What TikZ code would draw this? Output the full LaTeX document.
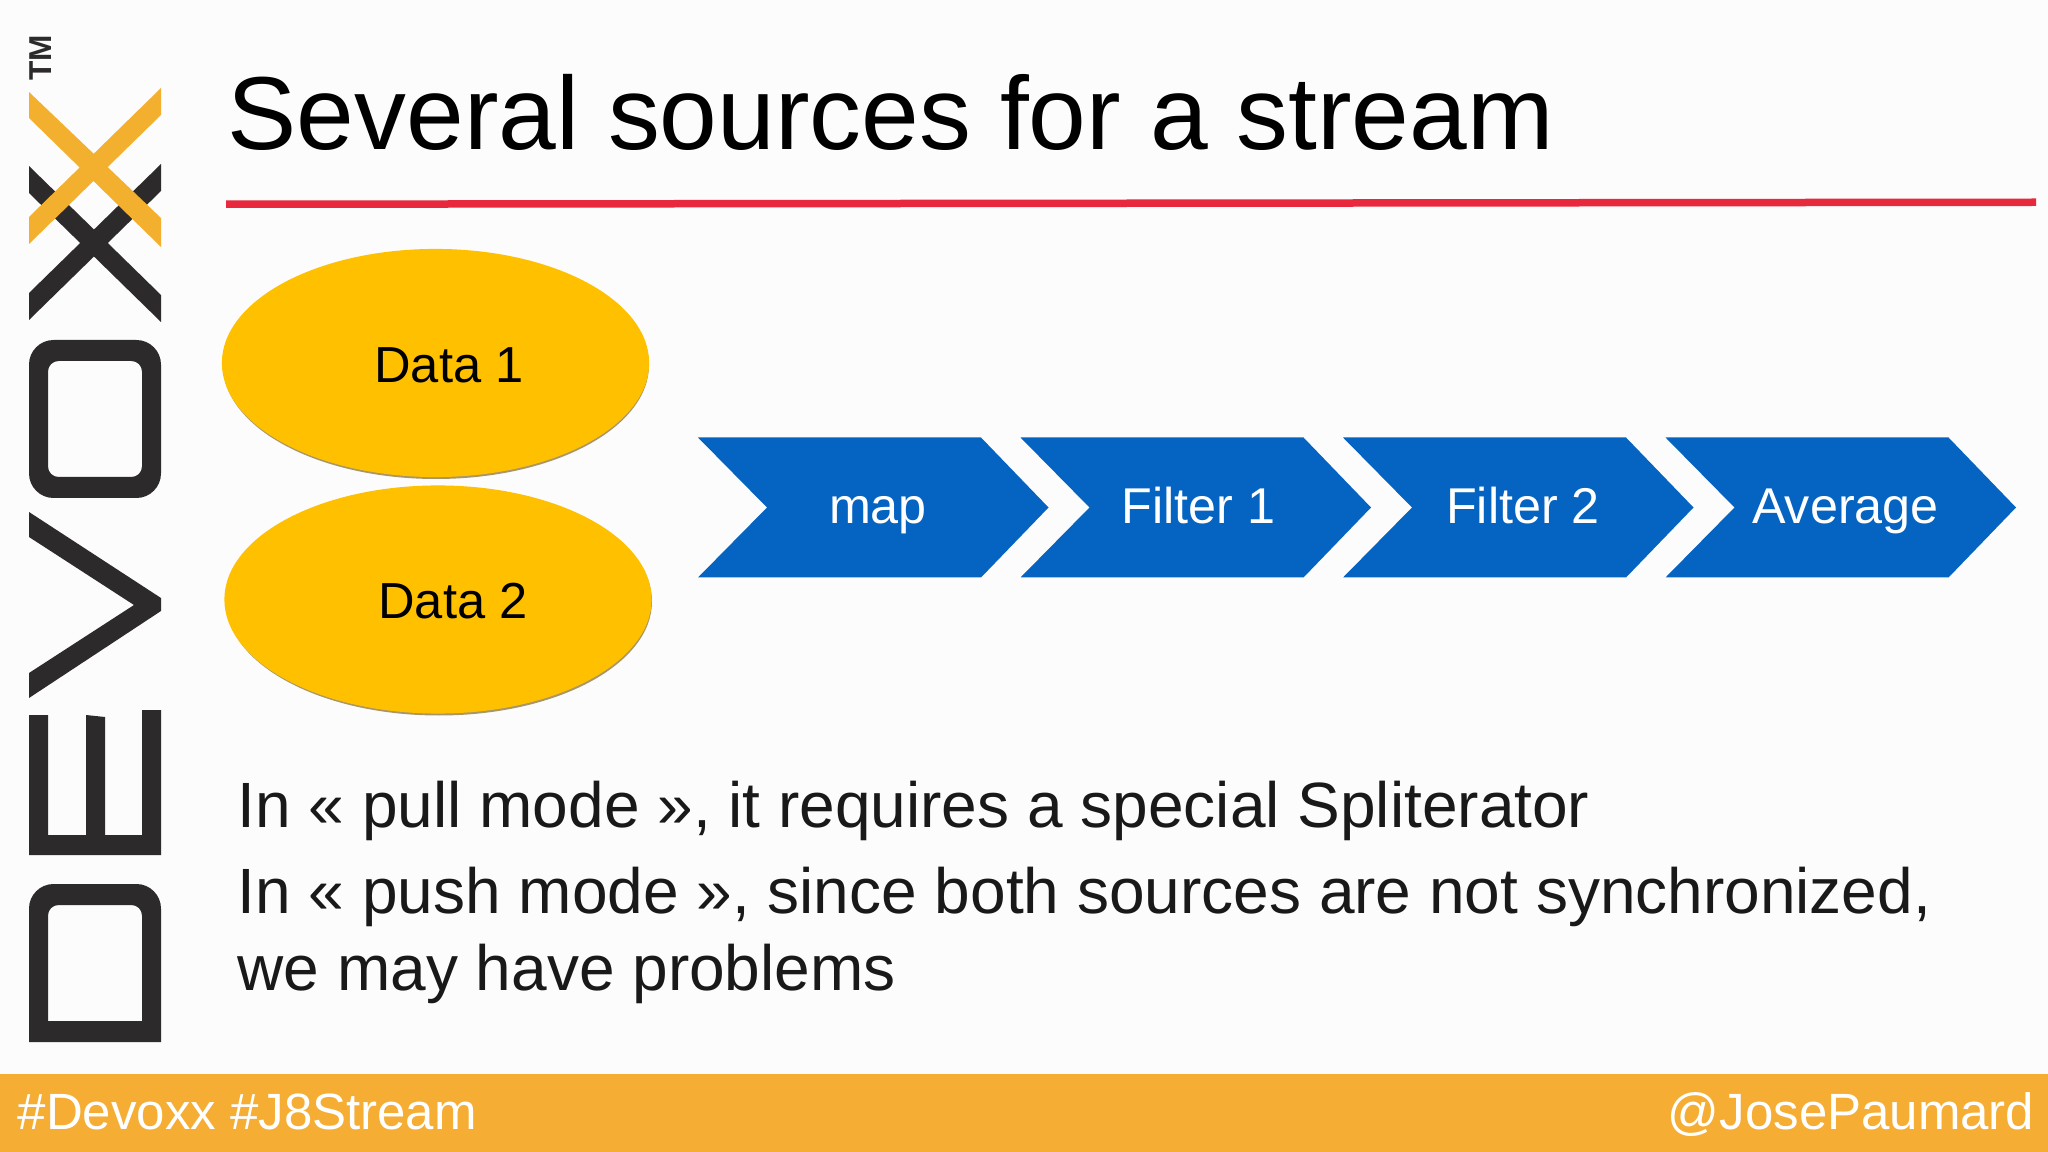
\documentclass[tikz,border=0pt]{standalone}
\usepackage{fontspec}
\setmainfont{Liberation Sans}
\usetikzlibrary{calc,shapes.geometric}
\definecolor{logodark}{HTML}{2D2A2B}
\definecolor{logoyellow}{HTML}{F3B02F}
\definecolor{barorange}{HTML}{F5AD33}
\definecolor{linered}{HTML}{E8283C}
\definecolor{datayellow}{HTML}{FFC000}
\definecolor{datashadow}{HTML}{A8966A}
\definecolor{stepblue}{HTML}{0563C1}
\tikzset{
	datanode/.style={ellipse, fill=datayellow, minimum width=4.27cm, minimum height=2.28cm, inner sep=0pt},
	datalabel/.style={anchor=base, inner sep=0pt, font=\fontsize{14.4pt}{17pt}\selectfont},
	steplabel/.style={anchor=base, text=white, inner sep=0pt, font=\fontsize{14.3pt}{17pt}\selectfont},
	bodytext/.style={anchor=base west, inner sep=0pt, text=black!90, font=\fontsize{18.2pt}{21pt}\selectfont},
	foottext/.style={anchor=base, inner sep=0pt, text=white, font=\fontsize{14.5pt}{18pt}\selectfont},
}
\def\stepchevron(#1)#2#3#4{
	\fill[stepblue] (#1-175, 437.5) -- (#1+108, 437.5) -- (#1+175.5, 507.5) -- (#1+108, 577.5) -- (#1-175, 577.5) -- (#1-106, 507.5) -- cycle;
	\node[steplabel] (#2) at (#1+#3, 524) {#4};
}
\begin{document}
\begin{tikzpicture}[x=0.01cm, y=-0.01cm]
		%%%%% background %%%%%
		\fill[white!99!black] (0, 0) rectangle (2048, 1152);
		\useasboundingbox (0, 0) rectangle (2048, 1152);
		
		%%%%% logo %%%%%
		\fill[logodark] (29, 166) -- (29, 193) -- (161, 322) -- (161, 295) -- cycle;
		\fill[logodark] (161, 164) -- (161, 191) -- (29, 320) -- (29, 293) -- cycle;
		\fill[logoyellow] (29, 92) -- (29, 118) -- (161, 247) -- (161, 218) -- cycle;
		\fill[logoyellow] (161, 88) -- (161, 115) -- (29, 244) -- (29, 217) -- cycle;
		\fill[logodark, even odd rule] [rounded corners=7pt] (29, 340) rectangle (161, 498) [rounded corners=3pt] (48, 361) rectangle (142, 477);
		\fill[logodark] (29, 512) -- (161, 598) -- (161, 611) -- (29, 698) -- (29, 673) -- (134, 605) -- (29, 537) -- cycle;
		\fill[logodark] (29, 715) -- (48, 715) -- (48, 835) -- (86, 835) -- (86, 715) -- (105, 717) -- (105, 835) -- (142, 835) -- (142, 710) -- (161, 710) -- (161, 855) -- (29, 855) -- cycle;
		\fill[logodark, even odd rule] (29, 1042) [rounded corners=7pt] -- (29, 884) -- (161, 884) [sharp corners] -- (161, 1042) -- cycle [rounded corners=3pt] (48, 1021) -- (48, 905) -- (142, 905) [sharp corners] -- (142, 1021) -- cycle;
		\node[rotate=90, inner sep=0pt, text=logodark, font=\bfseries\fontsize{9pt}{10pt}\selectfont] (tm) at (41, 58) {TM};
		
		%%%%% title %%%%%
		\node[anchor=base west, inner sep=0pt, font=\fontsize{29.5pt}{34pt}\selectfont] (title) at (227, 150) {Several sources for a stream};
		\fill[linered] (226, 200.5) -- (2036, 198.5) -- (2036, 206) -- (226, 208) -- cycle;
		
		%%%%% data sources %%%%%
		\fill[datashadow] (436, 365) ellipse (213 and 114);
		\fill[datashadow] (439, 601.5) ellipse (213 and 114);
		\node[datanode] (data1) at (435.5, 363) {};
		\node[datanode] (data2) at (438, 599.5) {};
		\node[datalabel] (data1label) at (449, 383) {Data 1};
		\node[datalabel] (data2label) at (453, 618) {Data 2};
		
		%%%%% steps %%%%%
		\stepchevron(873){map}{5}{map}
		\stepchevron(1195.5){filter1}{3}{Filter 1}
		\stepchevron(1518){filter2}{5}{Filter 2}
		\stepchevron(1840.5){average}{5}{Average}
		
		%%%%% text %%%%%
		\node[bodytext] (line1) at (237, 827) {In « pull mode », it requires a special Spliterator};
		\node[bodytext] (line2) at (237, 913) {In « push mode », since both sources are not synchronized,};
		\node[bodytext] (line3) at (237, 990) {we may have problems};
		
		%%%%% footer %%%%%
		\fill[barorange] (0, 1074) rectangle (2048, 1152);
		\node[foottext, anchor=base west] (tagleft) at (17, 1129) {\#Devoxx \#J8Stream};
		\node[foottext, anchor=base east] (tagright) at (2035, 1129) {@JosePaumard};
	\end{tikzpicture}
\end{document}
